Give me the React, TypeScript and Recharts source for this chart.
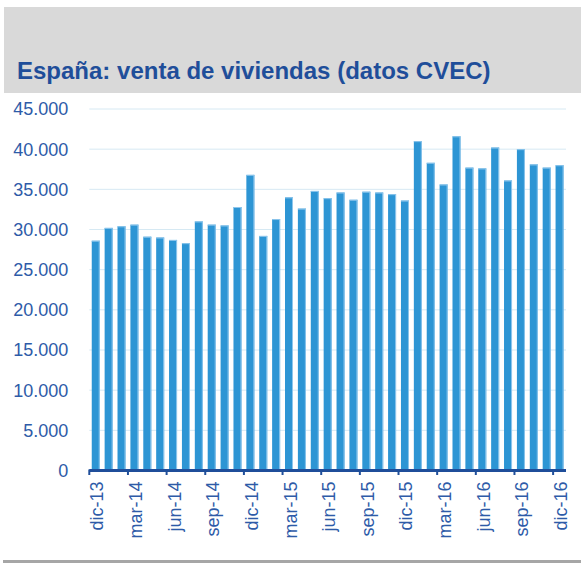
import React from 'react';
import { BarChart, Bar, XAxis, YAxis, CartesianGrid } from 'recharts';

const months = [
  'dic-13', 'ene-14', 'feb-14', 'mar-14', 'abr-14', 'may-14', 'jun-14', 'jul-14', 'ago-14', 'sep-14', 'oct-14', 'nov-14',
  'dic-14', 'ene-15', 'feb-15', 'mar-15', 'abr-15', 'may-15', 'jun-15', 'jul-15', 'ago-15', 'sep-15', 'oct-15', 'nov-15',
  'dic-15', 'ene-16', 'feb-16', 'mar-16', 'abr-16', 'may-16', 'jun-16', 'jul-16', 'ago-16', 'sep-16', 'oct-16', 'nov-16',
  'dic-16',
];

const ventas = [
  28600, 30200, 30400, 30600, 29100, 29000, 28700, 28300, 31000, 30600, 30500, 32800,
  36800, 29200, 31300, 34000, 32600, 34800, 33900, 34600, 33700, 34700, 34600, 34400,
  33600, 41000, 38300, 35600, 41600, 37700, 37600, 40200, 36100, 40000, 38100, 37700,
  38000,
];

const yTicks = [0, 5000, 10000, 15000, 20000, 25000, 30000, 35000, 40000, 45000];

const data = months.map((m, i) => ({ month: m, ventas: ventas[i] }));

const W = 581;
const H = 563;
const MARGIN = { top: 109, right: 15, left: 0, bottom: 0 };
const Y_W = 89.3;
const X_H = 92.5;
const BAND = (W - Y_W - MARGIN.right) / months.length;

const LABEL = '#2e5ba8';
const AXIS = '#1f4e9a';
const FONT = 'Arial, "Liberation Sans", sans-serif';

const fmt = (v: number) => v.toLocaleString('de-DE');

const XTick = (props: any) => {
  const { x, y, payload, index } = props;
  if (index % 3 !== 0) return null;
  const tx = x - BAND / 2;
  const ly = y + 11;
  return (
    <g>
      <line x1={tx} y1={y - 1} x2={tx} y2={y + 4.5} stroke={AXIS} strokeWidth={2} />
      <text
        x={x}
        y={ly}
        dy="0.42em"
        transform={`rotate(-90, ${x}, ${ly})`}
        textAnchor="end"
        fill={LABEL}
        fontSize={18}
        fontFamily={FONT}
      >
        {payload.value}
      </text>
    </g>
  );
};

const BarShape = (props: any) => {
  const { x, y, width, height } = props;
  return (
    <g>
      <rect x={x} y={y} width={width} height={height} fill="#2d95d4" />
      <line x1={x} y1={y + 0.5} x2={x + width} y2={y + 0.5} stroke="#8ec6ec" strokeWidth={1} />
      <line x1={x + width - 0.5} y1={y} x2={x + width - 0.5} y2={y + height} stroke="#8ec6ec" strokeWidth={1} />
    </g>
  );
};

export default function App() {
  return (
    <div style={{ position: 'absolute', left: 0, top: 0, width: W, height: H, background: '#fff' }}>
      <div
        style={{
          position: 'absolute',
          left: 4,
          top: 7,
          width: W - 4,
          height: 86,
          background: '#d9d9d9',
        }}
      />
      <div
        style={{
          position: 'absolute',
          left: 17,
          top: 59,
          fontFamily: FONT,
          fontWeight: 'bold',
          fontSize: 24,
          lineHeight: '24px',
          color: AXIS,
          whiteSpace: 'nowrap',
        }}
      >
        España: venta de viviendas (datos CVEC)
      </div>
      <div
        style={{
          position: 'absolute',
          left: 3,
          top: 560,
          width: W - 3,
          height: 3,
          background: '#a6a6a6',
        }}
      />
      <div style={{ position: 'absolute', left: 0, top: 0 }}>
        <BarChart width={W} height={H} data={data} margin={MARGIN} barCategoryGap="19%">
          <CartesianGrid vertical={false} stroke="#d6e9f3" strokeWidth={1} />
          <XAxis
            dataKey="month"
            interval={0}
            height={X_H}
            tickLine={false}
            tickSize={0}
            tickMargin={0}
            axisLine={{ stroke: AXIS, strokeWidth: 3 }}
            tick={<XTick />}
          />
          <YAxis
            domain={[0, 45000]}
            ticks={yTicks}
            width={Y_W}
            axisLine={false}
            tickLine={false}
            tickMargin={15}
            tickFormatter={fmt}
            tick={{ fill: LABEL, fontSize: 18, fontFamily: FONT }}
          />
          <Bar dataKey="ventas" shape={<BarShape />} isAnimationActive={false} />
        </BarChart>
      </div>
    </div>
  );
}
